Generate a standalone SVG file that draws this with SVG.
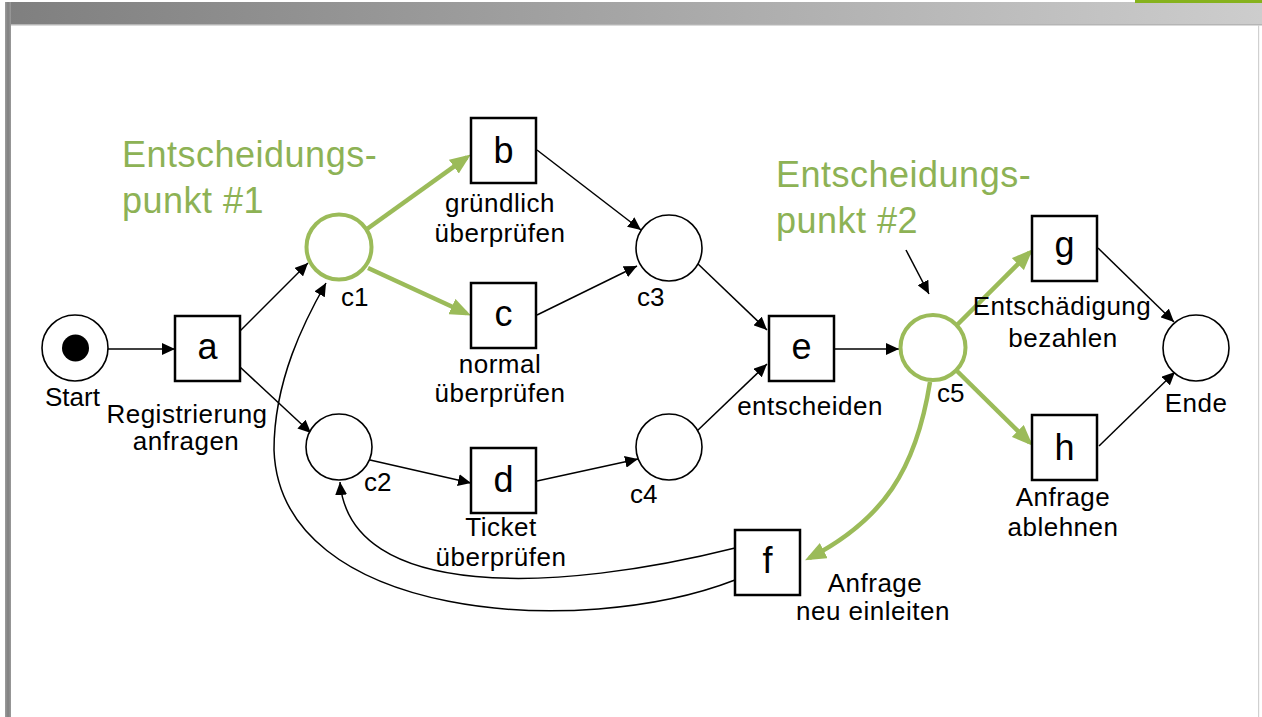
<svg xmlns="http://www.w3.org/2000/svg" width="1262" height="717" viewBox="0 0 1262 717">
  <defs>
    <linearGradient id="barGrad" x1="0" y1="0" x2="1" y2="0">
      <stop offset="0" stop-color="#7f7f7f"/>
      <stop offset="1" stop-color="#cdcdcd"/>
    </linearGradient>
    <linearGradient id="sideGrad" x1="0" y1="0" x2="1" y2="0">
      <stop offset="0" stop-color="#9c9c9c"/>
      <stop offset="0.5" stop-color="#808080"/>
      <stop offset="1" stop-color="#9a9a9a"/>
    </linearGradient>
    <marker id="arrow" markerUnits="userSpaceOnUse" markerWidth="14" markerHeight="12" refX="13" refY="6" orient="auto">
      <path d="M0,0 L13,6 L0,12 z" fill="#000"/>
    </marker>
    <marker id="arrowGreen" markerUnits="userSpaceOnUse" markerWidth="21" markerHeight="17" refX="16" refY="8.5" orient="auto">
      <path d="M0,0 L21,8.5 L0,17 z" fill="#9bbb59"/>
    </marker>
    <style>
      .place { fill: #fff; stroke: #000; stroke-width: 1.6; }
      .place-hl { fill: #fff; stroke: #9bbb59; stroke-width: 4; }
      .trans { fill: #fff; stroke: #000; stroke-width: 2.5; }
      .sym { font-family: "Liberation Sans", Arial, sans-serif; font-size: 36px; fill: #000; text-anchor: middle; }
      .lbl { font-family: "Liberation Sans", Arial, sans-serif; font-size: 26px; letter-spacing: 0.5px; fill: #000; text-anchor: middle; }
      .pl { font-family: "Liberation Sans", Arial, sans-serif; font-size: 26px; fill: #000; }
      .note { font-family: "Liberation Sans", Arial, sans-serif; font-size: 36px; letter-spacing: 0.5px; fill: #8db255; }
      .arc { fill: none; stroke: #000; stroke-width: 1.5; marker-end: url(#arrow); }
      .arc-hl { fill: none; stroke: #9bbb59; stroke-width: 4.5; marker-end: url(#arrowGreen); }
    </style>
  </defs>

  <!-- page frame -->
  <rect x="0" y="0" width="1262" height="717" fill="#fff"/>
  <rect x="5" y="2" width="1257" height="23" fill="url(#barGrad)"/>
  <rect x="10" y="24" width="1252" height="1.5" fill="#b5b5b5"/>
  <rect x="5" y="2" width="6" height="715" fill="url(#sideGrad)"/>
  <rect x="1258" y="25" width="1.2" height="692" fill="#d0d0d0"/>
  <rect x="1135" y="0" width="127" height="3" fill="#86b21d"/>

  <!-- annotations -->
  <g id="note1">
    <text class="note" x="122" y="167">Entscheidungs-</text>
    <text class="note" x="122" y="213">punkt #1</text>
  </g>
  <g id="note2">
    <text class="note" x="776" y="187">Entscheidungs-</text>
    <text class="note" x="776" y="233">punkt #2</text>
  </g>

  <!-- connectors -->
  <g id="connectors">
    <line class="arc" x1="108" y1="349" x2="175" y2="349"/>
    <line class="arc" x1="240" y1="331" x2="308" y2="263"/>
    <line class="arc" x1="240" y1="367" x2="311" y2="433"/>
    <line class="arc-hl" x1="367" y1="229" x2="466.8" y2="157.3"/>
    <line class="arc-hl" x1="368" y1="268" x2="466.4" y2="313.3"/>
    <line class="arc" x1="537" y1="150" x2="641" y2="230"/>
    <line class="arc" x1="537" y1="315" x2="637" y2="266"/>
    <line class="arc" x1="370" y1="460" x2="471" y2="483"/>
    <line class="arc" x1="537" y1="481" x2="638" y2="459"/>
    <line class="arc" x1="697" y1="263" x2="767" y2="330"/>
    <line class="arc" x1="697" y1="431" x2="767" y2="364"/>
    <line class="arc" x1="835" y1="349" x2="899" y2="349"/>
    <line class="arc-hl" x1="957" y1="325" x2="1029.2" y2="252.8"/>
    <line class="arc-hl" x1="957" y1="371" x2="1029.2" y2="442.2"/>
    <line class="arc" x1="1098" y1="248" x2="1174" y2="322"/>
    <line class="arc" x1="1099" y1="446" x2="1175" y2="372"/>
    <path class="arc-hl" d="M930,382 C916,470 883,520 809.5,558"/>
    <path class="arc" d="M735,548 C560,592 350,602 340,482"/>
    <path class="arc" d="M735,580 C580,640 280,620 274,450 C274,380 305,320 326,283"/>
    <line class="arc" x1="906" y1="250" x2="929" y2="294"/>
  </g>

  <!-- places -->
  <g id="start">
    <circle class="place" cx="75" cy="348" r="33"/>
    <circle cx="75.5" cy="348" r="13.5" fill="#000"/>
    <text class="pl" x="45" y="406">Start</text>
  </g>
  <g id="c1">
    <circle class="place-hl" cx="339" cy="247" r="32.5"/>
    <text class="pl" x="341" y="306">c1</text>
  </g>
  <g id="c2">
    <circle class="place" cx="339" cy="447" r="33"/>
    <text class="pl" x="364" y="491">c2</text>
  </g>
  <g id="c3">
    <circle class="place" cx="669" cy="248" r="33"/>
    <text class="pl" x="637" y="306">c3</text>
  </g>
  <g id="c4">
    <circle class="place" cx="669" cy="447" r="33"/>
    <text class="pl" x="630" y="503">c4</text>
  </g>
  <g id="c5">
    <circle class="place-hl" cx="933" cy="347.5" r="32.5"/>
    <text class="pl" x="937" y="402">c5</text>
  </g>
  <g id="ende">
    <circle class="place" cx="1196" cy="348" r="33"/>
    <text class="lbl" x="1196" y="412">Ende</text>
  </g>

  <!-- transitions -->
  <g id="a">
    <rect class="trans" x="175" y="316" width="65" height="65"/>
    <text class="sym" x="207.5" y="359">a</text>
    <text class="lbl" x="187" y="423">Registrierung</text>
    <text class="lbl" x="186" y="450">anfragen</text>
  </g>
  <g id="b">
    <rect class="trans" x="471" y="118" width="65" height="65"/>
    <text class="sym" x="503.5" y="163">b</text>
    <text class="lbl" x="500" y="212">gründlich</text>
    <text class="lbl" x="500" y="242">überprüfen</text>
  </g>
  <g id="c">
    <rect class="trans" x="471" y="283" width="65" height="65"/>
    <text class="sym" x="503.5" y="326">c</text>
    <text class="lbl" x="500" y="373">normal</text>
    <text class="lbl" x="500" y="402">überprüfen</text>
  </g>
  <g id="d">
    <rect class="trans" x="471" y="448" width="65" height="65"/>
    <text class="sym" x="503.5" y="492">d</text>
    <text class="lbl" x="501" y="536">Ticket</text>
    <text class="lbl" x="501" y="566">überprüfen</text>
  </g>
  <g id="e">
    <rect class="trans" x="769" y="316" width="65" height="65"/>
    <text class="sym" x="801.5" y="359">e</text>
    <text class="lbl" x="810" y="415">entscheiden</text>
  </g>
  <g id="f">
    <rect class="trans" x="735" y="530" width="65" height="65"/>
    <text class="sym" x="767.5" y="573">f</text>
    <text class="lbl" x="875" y="592">Anfrage</text>
    <text class="lbl" x="873" y="620">neu einleiten</text>
  </g>
  <g id="g">
    <rect class="trans" x="1032" y="216" width="65" height="65"/>
    <text class="sym" x="1064.5" y="257">g</text>
    <text class="lbl" x="1062" y="315">Entschädigung</text>
    <text class="lbl" x="1063" y="347">bezahlen</text>
  </g>
  <g id="h">
    <rect class="trans" x="1032" y="415" width="65" height="65"/>
    <text class="sym" x="1064.5" y="460">h</text>
    <text class="lbl" x="1063" y="506">Anfrage</text>
    <text class="lbl" x="1063" y="536">ablehnen</text>
  </g>
</svg>
